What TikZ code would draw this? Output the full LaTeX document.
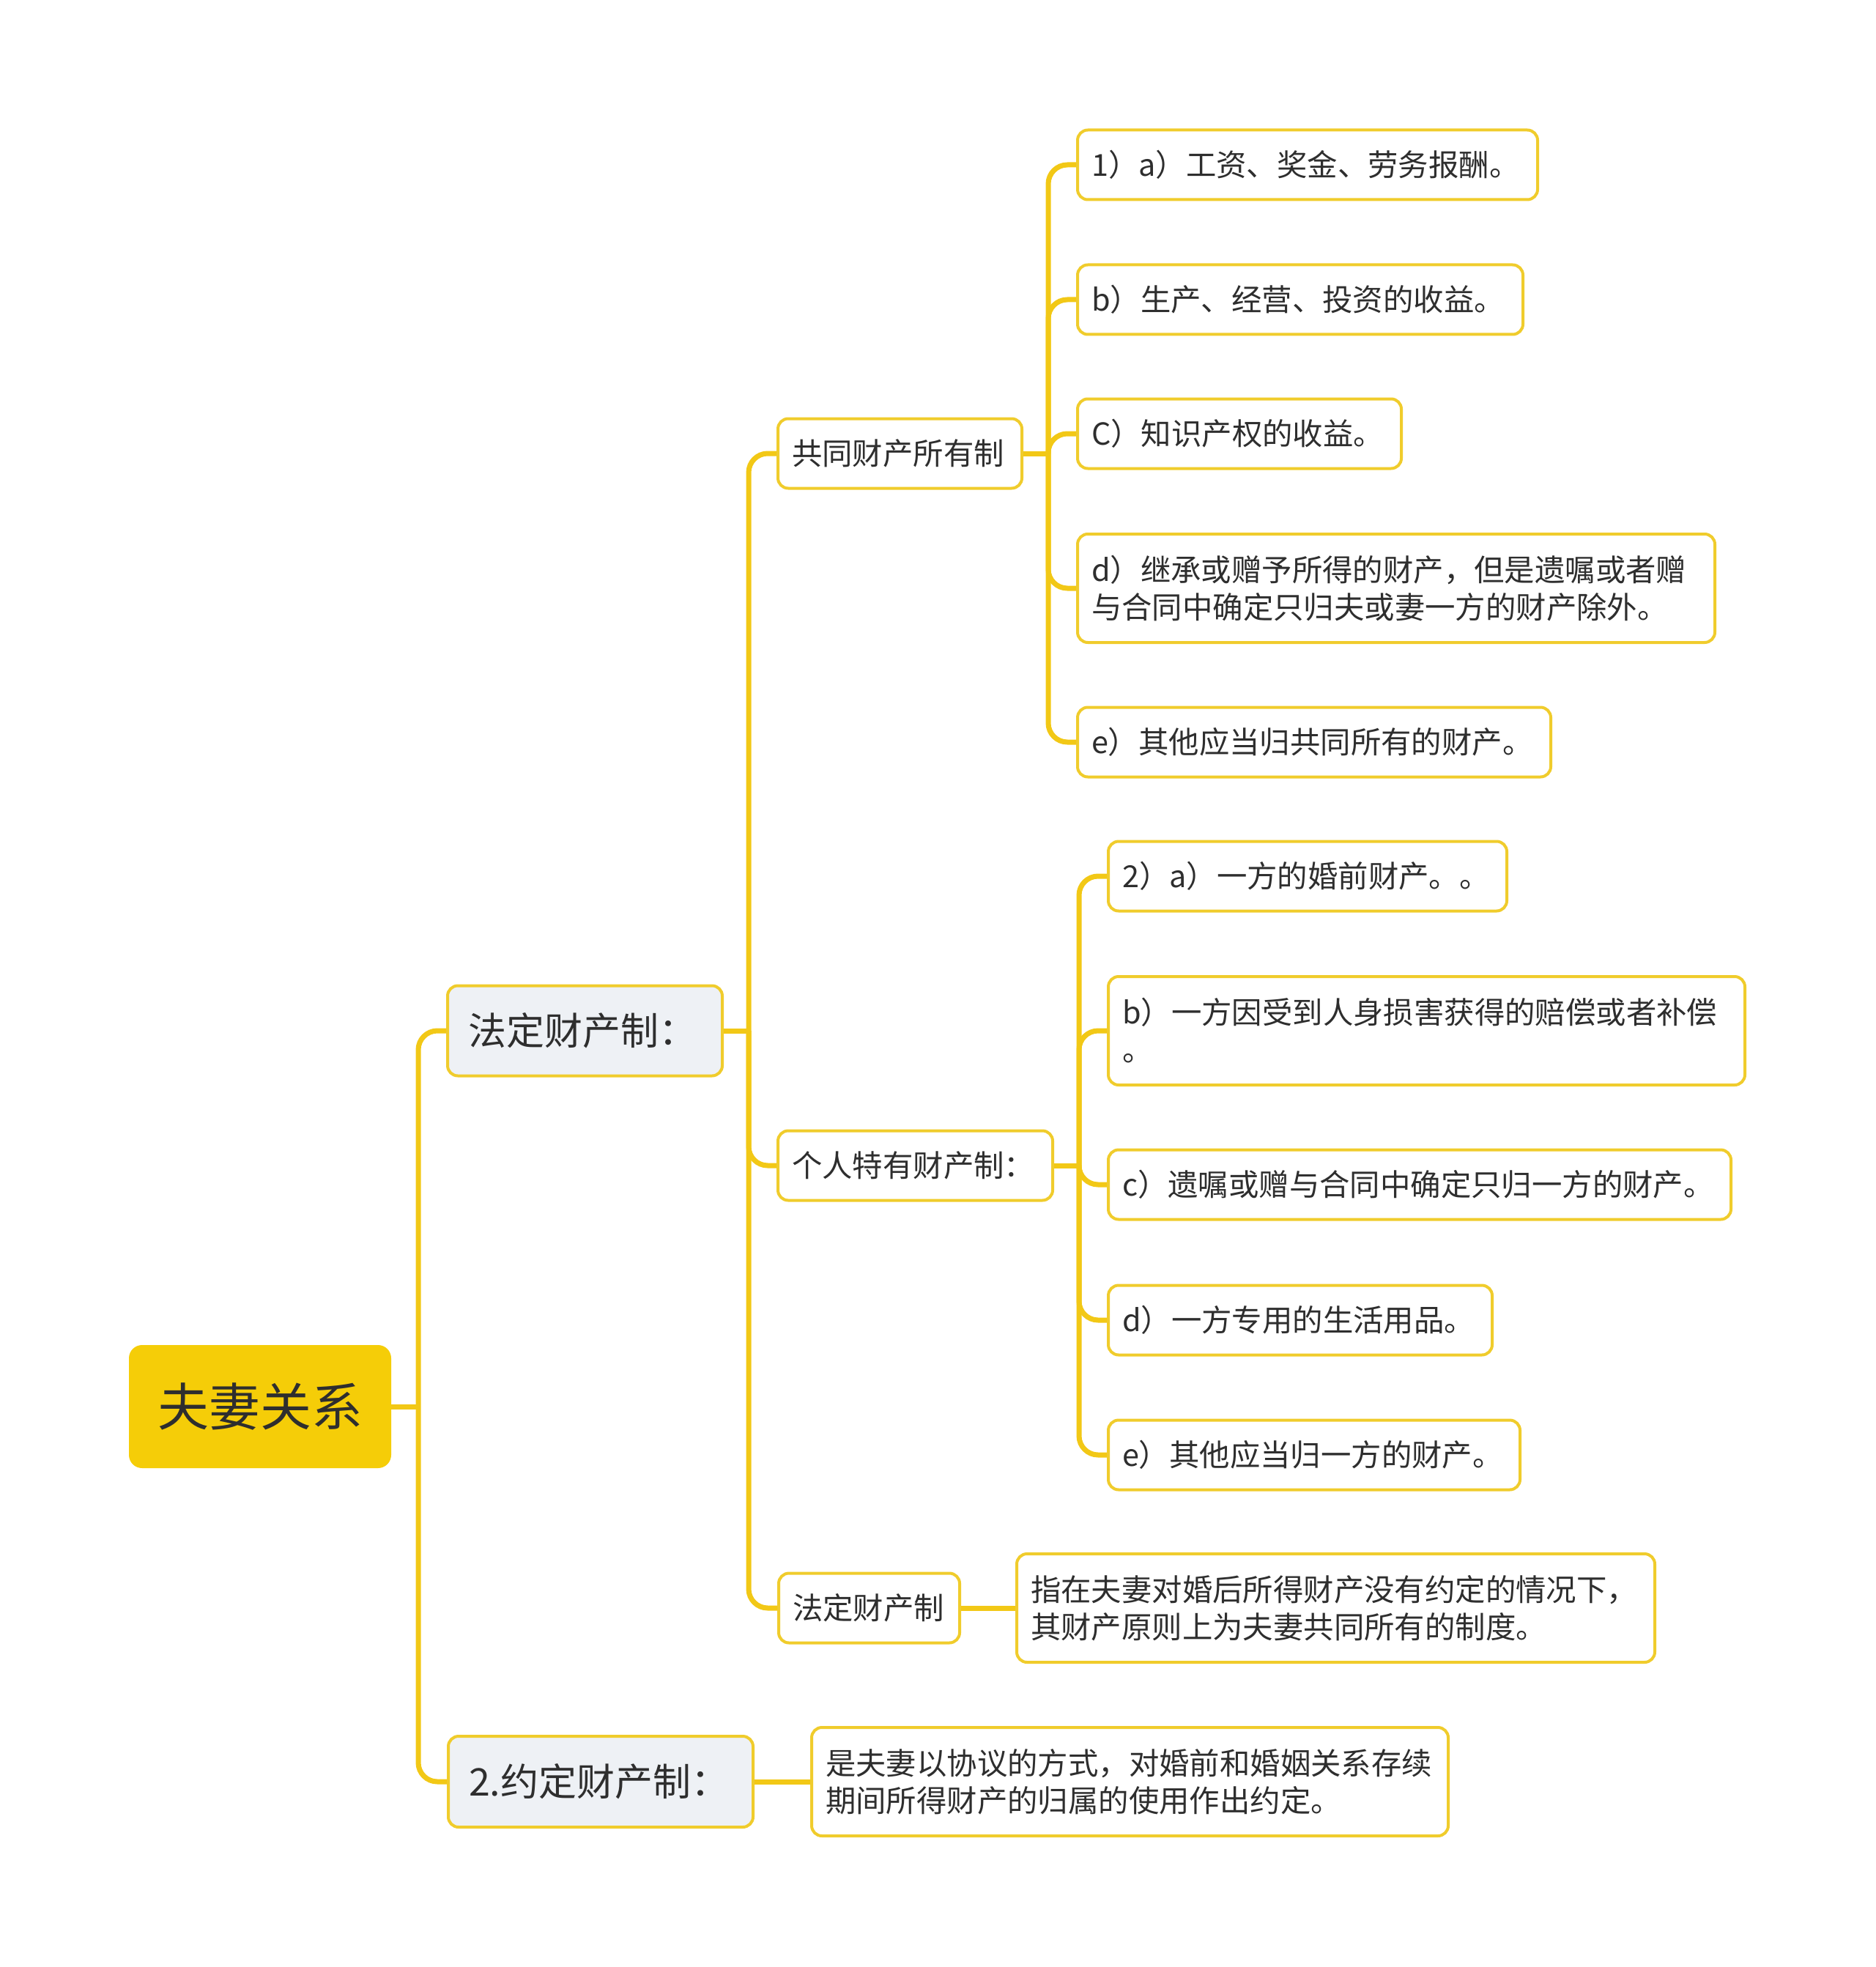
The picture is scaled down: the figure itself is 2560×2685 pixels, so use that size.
\documentclass[tikz,border=0pt]{standalone}
\usepackage{fontspec}
\newfontfamily\cjk{Noto Sans CJK SC}
\definecolor{liney}{RGB}{242,200,22}
\definecolor{boxy}{RGB}{240,204,44}
\definecolor{rootfill}{RGB}{245,205,8}
\definecolor{lonefill}{RGB}{238,241,245}
\definecolor{ink}{RGB}{46,46,46}
\begin{document}
\begin{tikzpicture}[x=0.5pt,y=-0.5pt,
  base/.style={draw=boxy, line width=2pt, rounded corners=7pt, fill=white, text=ink,
    font=\cjk\fontsize{20.7pt}{25.5pt}\selectfont, inner xsep=9.5pt, inner ysep=0pt,
    align=left, anchor=west},
  lone/.style={base, fill=lonefill, font=\cjk\fontsize{26pt}{31pt}\selectfont, inner xsep=14pt},
  rootbox/.style={fill=rootfill, draw=none, rounded corners=9pt, text=ink,
    font=\cjk\fontsize{35pt}{40pt}\selectfont, minimum width=179pt, minimum height=84pt, inner sep=0pt},
  conn/.style={draw=liney, line width=3.5pt, rounded corners=13pt}]
\useasboundingbox (0,0) rectangle (2560,2685);

% root
\node[rootbox] (root) at (355,1920) {夫妻关系};

% level 1
\node[lone, text width=159.5pt, minimum height=61.5pt] (L1a) at (609,1407) {法定财产制：};
\node[lone, text width=180pt, minimum height=62pt] (L1b) at (610,2432) {2.约定财产制：};

% level 2
\node[base, text width=147.5pt, minimum height=47.5pt] (L2a) at (1060,619) {共同财产所有制};
\node[base, text width=168.5pt, minimum height=47.5pt] (L2b) at (1060,1591) {个人特有财产制：};
\node[base, text width=104.5pt, minimum height=47.5pt] (L2c) at (1061,2195) {法定财产制};

% definitions
\node[base, text width=416.5pt, minimum height=74pt] (def1) at (1386,2195) {指在夫妻对婚后所得财产没有约定的情况下，\\其财产原则上为夫妻共同所有的制度。};
\node[base, text width=415.5pt, minimum height=74pt] (def2) at (1106,2432) {是夫妻以协议的方式，对婚前和婚姻关系存续\\期间所得财产的归属的使用作出约定。};

% leaves of 共同财产所有制
\node[base, text width=295pt, minimum height=47.5pt] (a1) at (1469,225) {1）a）工资、奖金、劳务报酬。};
\node[base, text width=285pt, minimum height=47.5pt] (a2) at (1469,409) {b）生产、经营、投资的收益。};
\node[base, text width=202pt, minimum height=47.5pt] (a3) at (1469,592) {C）知识产权的收益。};
\node[base, text width=416pt, minimum height=74pt] (a4) at (1469,803) {d）继承或赠予所得的财产，但是遗嘱或者赠\\与合同中确定只归夫或妻一方的财产除外。};
\node[base, text width=304pt, minimum height=47.5pt] (a5) at (1469,1013) {e）其他应当归共同所有的财产。};

% leaves of 个人特有财产制
\node[base, text width=253pt, minimum height=47.5pt] (b1) at (1511,1196) {2）a）一方的婚前财产。。};
\node[base, text width=415.5pt, minimum height=74pt] (b2) at (1511,1407) {b）一方因受到人身损害获得的赔偿或者补偿\\。};
\node[base, text width=406pt, minimum height=47.5pt] (b3) at (1511,1617) {c）遗嘱或赠与合同中确定只归一方的财产。};
\node[base, text width=243pt, minimum height=47.5pt] (b4) at (1511,1802) {d）一方专用的生活用品。};
\node[base, text width=262pt, minimum height=47.5pt] (b5) at (1511,1986) {e）其他应当归一方的财产。};

% junctions
\coordinate (rj) at (571,1920);
\coordinate (ja) at (1022,1407);
\coordinate (jb) at (1431,619);
\coordinate (jc) at (1473,1591);

% connectors
\draw[conn] (root.east) -- (rj);
\draw[conn] (rj) |- (L1a.west);
\draw[conn] (rj) |- (L1b.west);
\draw[conn] (L1b.east) -- (def2.west);

\draw[conn] (L1a.east) -- (ja);
\draw[conn] (ja) |- (L2a.west);
\draw[conn] (ja) |- (L2b.west);
\draw[conn] (ja) |- (L2c.west);
\draw[conn] (L2c.east) -- (def1.west);

\draw[conn] (L2a.east) -- (jb);
\foreach \n in {a1,a2,a3,a4,a5} \draw[conn] (jb) |- (\n.west);

\draw[conn] (L2b.east) -- (jc);
\foreach \n in {b1,b2,b3,b4,b5} \draw[conn] (jc) |- (\n.west);
\end{tikzpicture}
\end{document}
